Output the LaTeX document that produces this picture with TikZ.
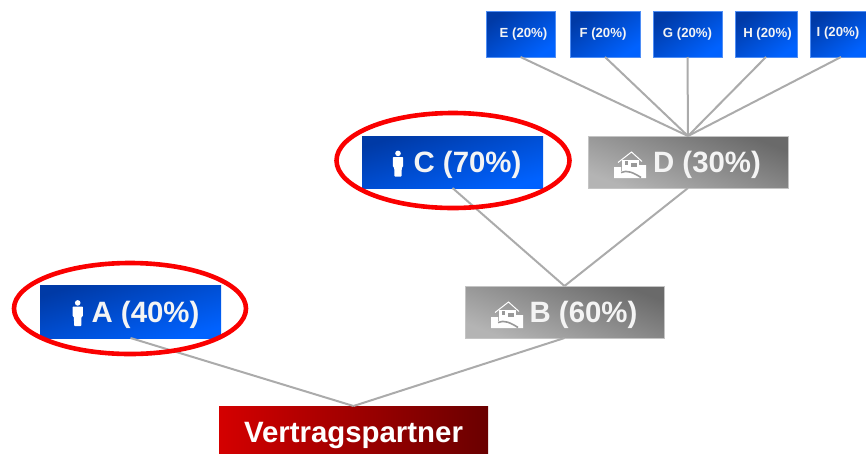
\documentclass[tikz,border=0pt]{standalone}
\usepackage{fontspec}
\setmainfont{Liberation Sans}
\usetikzlibrary{shapes.geometric}
\definecolor{bluedark}{HTML}{003AA6}
\definecolor{bluelight}{HTML}{0062FF}
\definecolor{blueedge}{HTML}{4F8EF5}
\definecolor{graydark}{HTML}{6A6A6A}
\definecolor{graylight}{HTML}{B4B4B4}
\definecolor{grayedge}{HTML}{C4C4C4}
\definecolor{redbright}{HTML}{D40000}
\definecolor{reddark}{HTML}{6A0000}
\definecolor{linkgray}{HTML}{ABABAB}
\definecolor{ringred}{HTML}{FA0000}
\definecolor{labelwhite}{HTML}{F4F4F4}
\newcommand{\boxlabel}[2]{\raisebox{-#1pt}[0pt][0pt]{#2}}
\tikzset{
  x=1pt,y=-1pt,
  basebox/.style={rectangle,inner sep=0pt,outer sep=0pt,text=labelwhite,font=\bfseries\fontsize{29.4}{32}\selectfont},
  bluebox/.style={basebox,shade,shading=axis,top color=bluedark,bottom color=bluelight,shading angle=17},
  graybox/.style={basebox,draw=grayedge,line width=0.7pt,shade,shading=axis,top color=graydark,bottom color=graylight,shading angle=-21},
  redbox/.style={basebox,text=white,shade,shading=axis,left color=redbright,right color=reddark},
  smallbox/.style={bluebox,shading angle=35,draw=blueedge,line width=0.6pt,font=\bfseries\fontsize{13.2}{15}\selectfont},
  link/.style={draw=linkgray,line width=2pt},
  ring/.style={ellipse,draw=ringred,line width=4.6pt,inner sep=0pt,outer sep=0pt,fill=none},
  personicon/.pic={
    \fill[white] (0,2.4) circle (2.8);
    \fill[white,rounded corners=0.8pt] (-5.2,6) -- (5.2,6) -- (5.2,16) -- (3.8,16) -- (3.6,25.5) -- (-3.6,25.5) -- (-3.8,16) -- (-5.2,16) -- cycle;
  },
  houseicon/.pic={
    \fill[white] (0,27) -- (0,16) -- (7,16) -- (7,20) -- (25,20) -- (25,14) -- (32,14) -- (32,27) -- cycle;
    \draw[white,line width=1pt] (4,11.5) -- (17.5,1) -- (28,10.5);
    \draw[white,line width=1.4pt] (9,9) -- (9,20);
    \fill[white] (9,9) rectangle (25,20);
    \fill[gray!80] (11,10) rectangle (14,14);
    \fill[gray!80] (17,12) rectangle (23,16);
    \draw[gray!80,line width=1.6pt] (7,21.5) .. controls (13,18.5) and (20,22) .. (27,26.5);
  }
}
\begin{document}
\begin{tikzpicture}
\useasboundingbox (0,0) rectangle (866,453);
% top row
\node[smallbox,minimum width=69pt,minimum height=46pt] (E) at (520.5,34) {\hspace*{6pt}\boxlabel{3}{E (20\%)}};
\node[smallbox,minimum width=70pt,minimum height=46pt] (F) at (605,34) {\hspace*{-4pt}\boxlabel{3}{F (20\%)}};
\node[smallbox,minimum width=69pt,minimum height=46pt] (G) at (687.5,34) {\boxlabel{3}{G (20\%)}};
\node[smallbox,minimum width=62pt,minimum height=46pt] (H) at (766,34) {\hspace*{3pt}\boxlabel{3}{H (20\%)}};
\node[smallbox,minimum width=56pt,minimum height=46pt] (I) at (838,34) {\boxlabel{2}{I (20\%)}};
% middle rows
\node[bluebox,minimum width=181pt,minimum height=52pt] (C) at (452.5,162) {\hspace*{30pt}\boxlabel{10.5}{C (70\%)}};
\node[graybox,minimum width=200pt,minimum height=52pt] (D) at (688,162) {\hspace*{38pt}\boxlabel{10.5}{D (30\%)}};
\node[graybox,minimum width=199pt,minimum height=52pt] (B) at (564.5,312) {\hspace*{38pt}\boxlabel{10}{B (60\%)}};
\node[bluebox,minimum width=181pt,minimum height=53pt] (A) at (130.5,311.5) {\hspace*{30pt}\boxlabel{10.5}{A (40\%)}};
\node[redbox,minimum width=269pt,minimum height=47pt] (V) at (353.5,429.5) {\boxlabel{12.5}{Vertragspartner}};
% connectors
\foreach \leaf in {E,F,G,H} \draw[link] (\leaf.south) -- (D.north);
\draw[link] ([xshift=3pt]I.south) -- (D.north);
\draw[link] (C.south) -- (B.north);
\draw[link] (D.south) -- (B.north);
\draw[link] (A.south) -- (V.north);
\draw[link] (B.south) -- (V.north);
% icons
\pic at (398,151) {personicon};
\pic at (77.7,300.5) {personicon};
\pic at (614,151) {houseicon};
\pic at (491,301) {houseicon};
% highlight rings
\node[ring,minimum width=233pt,minimum height=95pt] (ringC) at (453,160.5) {};
\node[ring,minimum width=232pt,minimum height=91pt] (ringA) at (130,308.5) {};
\end{tikzpicture}
\end{document}
